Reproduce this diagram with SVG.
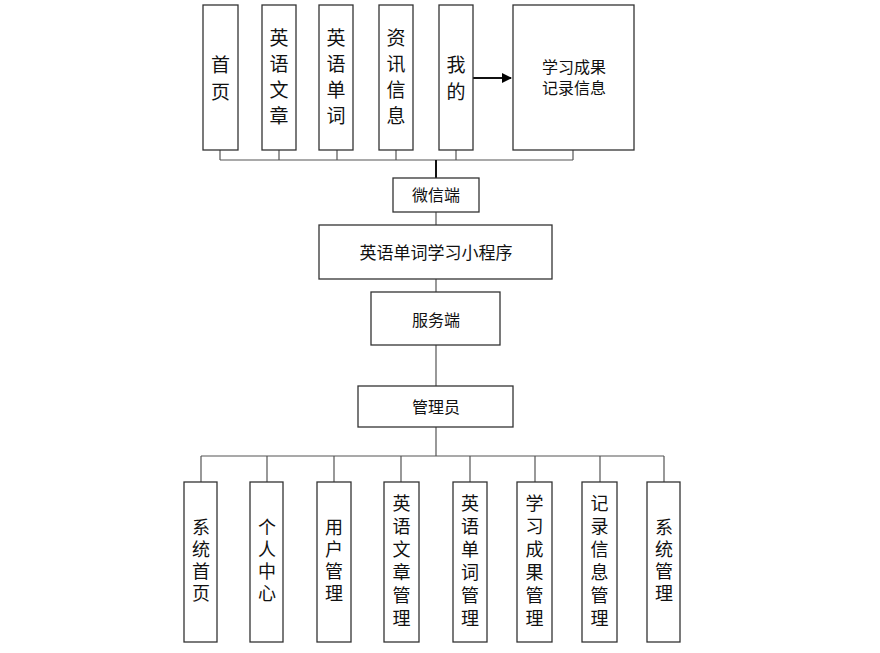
<svg xmlns="http://www.w3.org/2000/svg" width="880" height="653" viewBox="0 0 880 653">
<defs>
<style>
.box{fill:#fff;stroke:#333;stroke-width:1.3}
.ln{fill:none;stroke:#555;stroke-width:1.2}
.thk{fill:none;stroke:#111;stroke-width:2}
text{font-family:"Liberation Sans","Noto Sans CJK SC",sans-serif;fill:#111;text-anchor:middle;dominant-baseline:central}
.t19{font-size:19px}
.t18{font-size:18px}
.t16{font-size:16px}
.t17{font-size:17px}
</style>
<marker id="ah" markerWidth="10" markerHeight="10" refX="9" refY="5" orient="auto" markerUnits="userSpaceOnUse" viewBox="0 0 10 10">
<path d="M0,0 L10,5 L0,10 Z" fill="#000"/>
</marker>
</defs>
<rect width="880" height="653" fill="#fff"/>
<g id="connectors">
<path class="ln" d="M220,150V160M279,150V160M337,150V160M396,150V160M456,150V160M573,150V160M220,160H573"/>
<path class="thk" d="M436,160V178"/>
<path class="thk" d="M473,78H511" marker-end="url(#ah)"/>
<path class="ln" d="M436,212V225M436,279V292M436,345V386M436,427V456M201,456H664"/>
<path class="ln" d="M201,456V482M267,456V482M334,456V482M401,456V482M470,456V482M535,456V482M600,456V482M664,456V482"/>
</g>
<g id="n-home"><rect class="box" x="203" y="5" width="35" height="145"/><text class="t19" x="220.5"><tspan x="220.5" y="65">首</tspan><tspan x="220.5" y="92">页</tspan></text></g>
<g id="n-article"><rect class="box" x="262" y="5" width="34" height="145"/><text class="t19"><tspan x="279" y="38">英</tspan><tspan x="279" y="64">语</tspan><tspan x="279" y="90">文</tspan><tspan x="279" y="116">章</tspan></text></g>
<g id="n-word"><rect class="box" x="319" y="5" width="34" height="145"/><text class="t19"><tspan x="336" y="38">英</tspan><tspan x="336" y="64">语</tspan><tspan x="336" y="90">单</tspan><tspan x="336" y="116">词</tspan></text></g>
<g id="n-news"><rect class="box" x="379" y="5" width="34" height="145"/><text class="t19"><tspan x="396" y="38">资</tspan><tspan x="396" y="64">讯</tspan><tspan x="396" y="90">信</tspan><tspan x="396" y="116">息</tspan></text></g>
<g id="n-mine"><rect class="box" x="439" y="5" width="34" height="145"/><text class="t19"><tspan x="456" y="65">我</tspan><tspan x="456" y="92">的</tspan></text></g>
<g id="n-record"><rect class="box" x="513" y="5" width="121" height="145"/><text class="t16"><tspan x="574" y="67">学习成果</tspan><tspan x="574" y="88">记录信息</tspan></text></g>
<g id="n-wechat"><rect class="box" x="393" y="178" width="86" height="34"/><text class="t16" x="436" y="195">微信端</text></g>
<g id="n-app"><rect class="box" x="319" y="225" width="233" height="54"/><text class="t17" x="436" y="253">英语单词学习小程序</text></g>
<g id="n-server"><rect class="box" x="371" y="292" width="129" height="53"/><text class="t16" x="436" y="320">服务端</text></g>
<g id="n-admin"><rect class="box" x="358" y="386" width="155" height="41"/><text class="t16" x="436" y="407">管理员</text></g>
<g id="b1"><rect class="box" x="184" y="482" width="33" height="160"/><text class="t18"><tspan x="201" y="528">系</tspan><tspan x="201" y="550">统</tspan><tspan x="201" y="572">首</tspan><tspan x="201" y="594">页</tspan></text></g>
<g id="b2"><rect class="box" x="250" y="482" width="33" height="160"/><text class="t18"><tspan x="267" y="528">个</tspan><tspan x="267" y="550">人</tspan><tspan x="267" y="572">中</tspan><tspan x="267" y="594">心</tspan></text></g>
<g id="b3"><rect class="box" x="317" y="482" width="34" height="160"/><text class="t18"><tspan x="334" y="528">用</tspan><tspan x="334" y="550">户</tspan><tspan x="334" y="572">管</tspan><tspan x="334" y="594">理</tspan></text></g>
<g id="b4"><rect class="box" x="384" y="482" width="35" height="160"/><text class="t18"><tspan x="401.5" y="504">英</tspan><tspan x="401.5" y="527">语</tspan><tspan x="401.5" y="550">文</tspan><tspan x="401.5" y="573">章</tspan><tspan x="401.5" y="596">管</tspan><tspan x="401.5" y="619">理</tspan></text></g>
<g id="b5"><rect class="box" x="453" y="482" width="34" height="160"/><text class="t18"><tspan x="470" y="504">英</tspan><tspan x="470" y="527">语</tspan><tspan x="470" y="550">单</tspan><tspan x="470" y="573">词</tspan><tspan x="470" y="596">管</tspan><tspan x="470" y="619">理</tspan></text></g>
<g id="b6"><rect class="box" x="517" y="482" width="35" height="160"/><text class="t18"><tspan x="534.5" y="504">学</tspan><tspan x="534.5" y="527">习</tspan><tspan x="534.5" y="550">成</tspan><tspan x="534.5" y="573">果</tspan><tspan x="534.5" y="596">管</tspan><tspan x="534.5" y="619">理</tspan></text></g>
<g id="b7"><rect class="box" x="582" y="482" width="35" height="160"/><text class="t18"><tspan x="599.5" y="504">记</tspan><tspan x="599.5" y="527">录</tspan><tspan x="599.5" y="550">信</tspan><tspan x="599.5" y="573">息</tspan><tspan x="599.5" y="596">管</tspan><tspan x="599.5" y="619">理</tspan></text></g>
<g id="b8"><rect class="box" x="647" y="482" width="33" height="160"/><text class="t18"><tspan x="664" y="528">系</tspan><tspan x="664" y="550">统</tspan><tspan x="664" y="572">管</tspan><tspan x="664" y="594">理</tspan></text></g>
</svg>
